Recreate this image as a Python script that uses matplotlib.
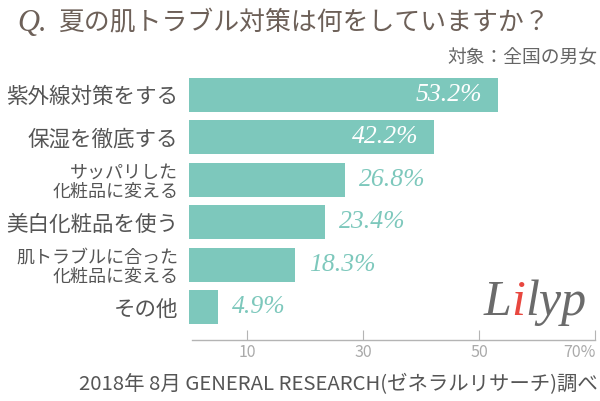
import matplotlib
matplotlib.use("Agg")
import matplotlib.pyplot as plt
from matplotlib.offsetbox import TextArea, HPacker, AnchoredOffsetbox

plt.rcParams['font.family'] = ['Noto Sans CJK JP', 'DejaVu Sans']

# data
categories = ["紫外線対策をする", "保湿を徹底する", "サッパリした\n化粧品に変える",
              "美白化粧品を使う", "肌トラブルに合った\n化粧品に変える", "その他"]
values = [53.2, 42.2, 26.8, 23.4, 18.3, 4.9]
xticks = [10, 30, 50, 70]
xtick_labels = ["10", "30", "50", "70%"]

title = "夏の肌トラブル対策は何をしていますか？"
subtitle = "対象：全国の男女"
source = "2018年 8月 GENERAL RESEARCH(ゼネラルリサーチ)調べ"

bar_color = "#7dc8bc"
label_color = "#555555"
title_color = "#6d6058"
axis_color = "#b4b4b4"

fig = plt.figure(figsize=(6, 4.01), dpi=100)
ax = fig.add_axes([0.3155, 0.152, 0.6767, 0.675])

ypos = list(range(len(values)))
bars = ax.barh(ypos, values, height=0.8, color=bar_color)
ax.set_xlim(0, 70)
ax.set_ylim(5.775, -0.6)

for s in ["top", "right", "left"]:
    ax.spines[s].set_visible(False)
ax.spines["bottom"].set_color(axis_color)
ax.spines["bottom"].set_linewidth(1)
ax.spines["bottom"].set_bounds(0.45, 70)

ax.set_xticks(xticks)
ax.set_xticklabels(xtick_labels, color="#aaaaaa", fontsize=11.5)
ax.tick_params(axis="x", direction="in", length=7, color=axis_color, pad=3)
ax.get_xticklabels()[-1].set_ha("right")

ax.set_yticks(ypos)
ax.set_yticklabels(categories, color=label_color)
ax.tick_params(axis="y", length=0, pad=8)
for lab in ax.get_yticklabels():
    if "\n" in lab.get_text():
        lab.set_fontsize(13)
        lab.set_linespacing(1.05)
    else:
        lab.set_fontsize(15.5)

# value labels
for y, v in zip(ypos, values):
    if v > 40:
        ax.annotate(f"{v}%", (v, y), xytext=(-11, 0), textcoords="offset points",
                    ha="right", va="center", color="white", fontsize=18.5,
                    family="Liberation Serif", style="italic")
    else:
        ax.annotate(f"{v}%", (v, y), xytext=(10, 0), textcoords="offset points",
                    ha="left", va="center", color=bar_color, fontsize=18.5,
                    family="Liberation Serif", style="italic")

# title
fig.text(17 / 600, 1 - 23 / 401, "Q.", color=title_color, fontsize=22,
         family="Liberation Serif", style="italic", va="center", ha="left")
fig.text(58 / 600, 1 - 23 / 401, title, color=title_color, fontsize=18.6,
         va="center", ha="left")
fig.text(597 / 600, 1 - 58 / 401, subtitle, color="#666666", fontsize=13.5,
         va="center", ha="right")
fig.text(598 / 600, 1 - 385 / 401, source, color=label_color, fontsize=14.7,
         va="center", ha="right")

# logo
parts = [("L", "#6b6b6b"), ("i", "#e8473f"), ("lyp", "#6b6b6b")]
boxes = [TextArea(t, textprops=dict(color=c, fontsize=36, family="Liberation Serif",
                                    style="italic")) for t, c in parts]
logo = AnchoredOffsetbox(loc="center", child=HPacker(children=boxes, sep=0, pad=0),
                         frameon=False, bbox_to_anchor=(535 / 600, 1 - 303 / 401),
                         bbox_transform=fig.transFigure, borderpad=0)
fig.add_artist(logo)

fig.savefig("out.png", dpi=100)
